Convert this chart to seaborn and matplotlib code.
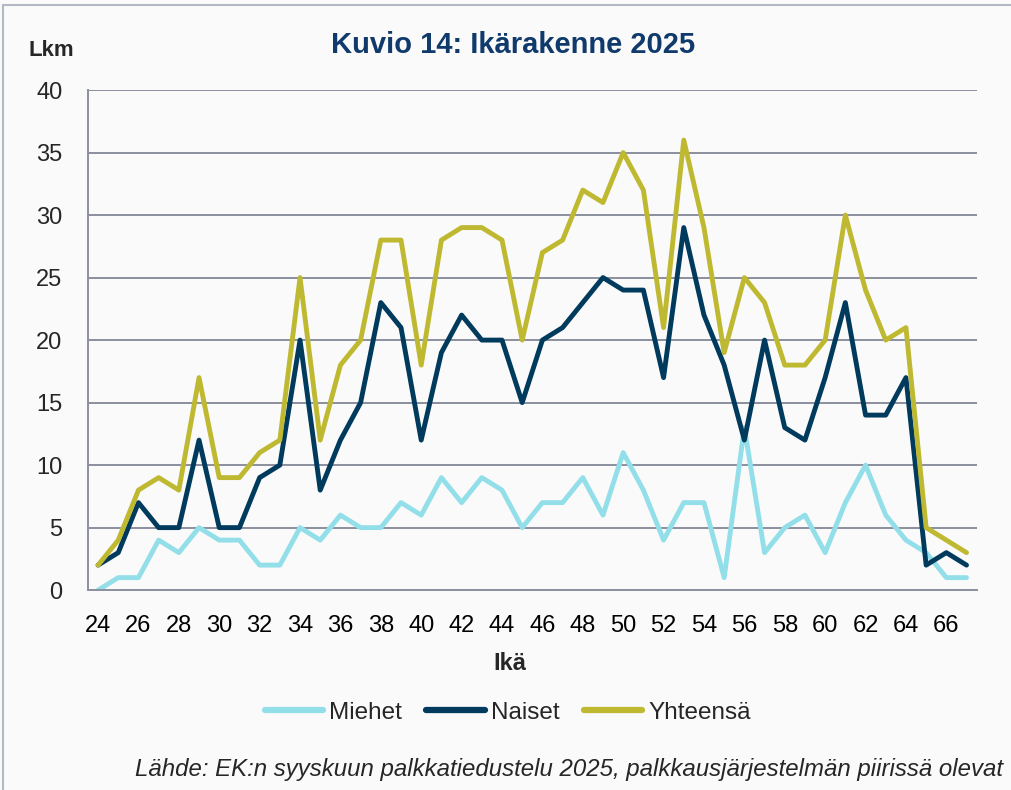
import pandas as pd
import matplotlib.pyplot as plt
import seaborn as sns
from matplotlib.patches import Rectangle

# Age structure 2025, counts by age
ages = list(range(24, 68))
miehet = [0, 1, 1, 4, 3, 5, 4, 4, 2, 2, 5, 4, 6, 5, 5, 7, 6, 9, 7, 9, 8, 5,
          7, 7, 9, 6, 11, 8, 4, 7, 7, 1, 13, 3, 5, 6, 3, 7, 10, 6, 4, 3, 1, 1]
naiset = [2, 3, 7, 5, 5, 12, 5, 5, 9, 10, 20, 8, 12, 15, 23, 21, 12, 19, 22, 20, 20, 15,
          20, 21, 23, 25, 24, 24, 17, 29, 22, 18, 12, 20, 13, 12, 17, 23, 14, 14, 17, 2, 3, 2]
yhteensa = [2, 4, 8, 9, 8, 17, 9, 9, 11, 12, 25, 12, 18, 20, 28, 28, 18, 28, 29, 29, 28, 20,
            27, 28, 32, 31, 35, 32, 21, 36, 29, 19, 25, 23, 18, 18, 20, 30, 24, 20, 21, 5, 4, 3]
series_names = ['Miehet', 'Naiset', 'Yhteensä']
colors = ['#93dfe9', '#003a5c', '#bfb932']
y_ticks = [0, 5, 10, 15, 20, 25, 30, 35, 40]

df = pd.DataFrame({'Ikä': ages, 'Miehet': miehet, 'Naiset': naiset, 'Yhteensä': yhteensa})
long_df = df.melt(id_vars='Ikä', var_name='Sarja', value_name='Lkm')

sns.set_style('white')
plt.rcParams['font.family'] = ['Liberation Sans', 'DejaVu Sans']

bg = '#fafafa'
grid_c = '#8c909e'
fig = plt.figure(figsize=(10.11, 7.9), dpi=100, facecolor=bg)
ax = fig.add_axes([0.087, 0.253, 0.879, 0.633], facecolor=bg)

sns.lineplot(data=long_df, x='Ikä', y='Lkm', hue='Sarja', hue_order=series_names,
             palette=colors, linewidth=3.5, ax=ax, legend=False)

ax.set_xlim(23.5, 67.5)
ax.set_ylim(0, 40)
ax.set_yticks(y_ticks)
ax.yaxis.grid(True, color=grid_c, linewidth=1.4)
ax.set_axisbelow(True)

# category axis: ticks between ages, labels at even ages
ax.set_xticks([a + 0.5 for a in range(23, 68)], minor=True)
ax.set_xticks(list(range(24, 67, 2)))
ax.tick_params(axis='x', which='major', length=0, labelsize=17, pad=18, colors='black')
ax.tick_params(axis='x', which='minor', length=6.5, width=1.4, color=grid_c, direction='out')
ax.tick_params(axis='y', length=6.5, width=1.4, color=grid_c, labelsize=17, pad=12)

for s in ['top', 'right']:
    ax.spines[s].set_visible(False)
for s in ['left', 'bottom']:
    ax.spines[s].set_color(grid_c)
    ax.spines[s].set_linewidth(1.4)

ax.set_xlabel('')
ax.set_ylabel('')
fig.text(0.051, 0.936, 'Lkm', fontsize=16, fontweight='bold', ha='center', va='center')
fig.text(0.507, 0.943, 'Kuvio 14: Ikärakenne 2025', fontsize=21, fontweight='bold',
         color='#0f3a6b', ha='center', va='center')
fig.text(0.504, 0.160, 'Ikä', fontsize=17, fontweight='bold', ha='center', va='center')

handles = [plt.Line2D([], [], color=c, linewidth=4.5, solid_capstyle='round') for c in colors]
fig.legend(handles, series_names, loc='center', bbox_to_anchor=(0.502, 0.098), ncol=3,
           frameon=False, fontsize=17.5, handlelength=2.4, handletextpad=0.25, columnspacing=1.0)

fig.text(0.992, 0.026, 'Lähde: EK:n syyskuun palkkatiedustelu 2025, palkkausjärjestelmän piirissä olevat',
         fontsize=17.3, style='italic', ha='right', va='center')

fig.patches.append(Rectangle((0.003, -0.01), 1.2, 1.004, transform=fig.transFigure,
                             fill=False, edgecolor='#b4b8c6', linewidth=1.5))

plt.savefig('out.png', dpi=100, facecolor=bg)
plt.close()
